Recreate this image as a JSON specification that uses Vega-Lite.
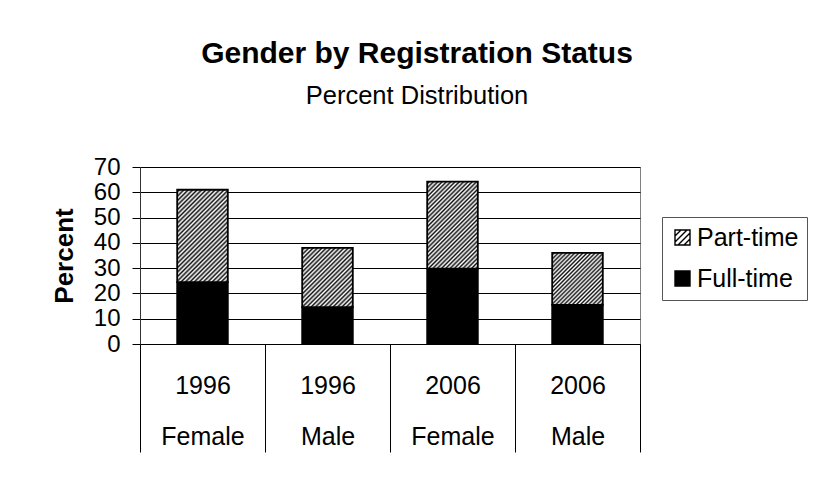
{
  "$schema": "https://vega.github.io/schema/vega-lite/v6.json",
  "width": 500,
  "height": 177,
  "autosize": "none",
  "padding": {"left": 140, "top": 167, "right": 176, "bottom": 141},
  "background": "#ffffff",
  "config": {
    "font": "Liberation Sans",
    "view": {"stroke": "#808080", "strokeWidth": 1}
  },
  "title": {
    "text": "Gender by Registration Status",
    "subtitle": "Percent Distribution",
    "font": "Liberation Sans",
    "subtitleFont": "Liberation Sans",
    "fontSize": 30,
    "fontWeight": "bold",
    "subtitleFontSize": 25.5,
    "subtitlePadding": 15,
    "color": "#000000",
    "subtitleColor": "#000000",
    "anchor": "middle",
    "frame": "group",
    "dx": 27,
    "offset": 46
  },
  "data": {
    "values": [
      {"category": "1996 Female", "status": "Full-time", "value": 24.5},
      {"category": "1996 Female", "status": "Part-time", "value": 36.5},
      {"category": "1996 Male", "status": "Full-time", "value": 14.6},
      {"category": "1996 Male", "status": "Part-time", "value": 23.4},
      {"category": "2006 Female", "status": "Full-time", "value": 29.8},
      {"category": "2006 Female", "status": "Part-time", "value": 34.4},
      {"category": "2006 Male", "status": "Full-time", "value": 15.5},
      {"category": "2006 Male", "status": "Part-time", "value": 20.5}
    ]
  },
  "transform": [
    {"stack": "value", "groupby": ["category"], "sort": [{"field": "status", "order": "ascending"}], "as": ["y0", "y1"]}
  ],
  "encoding": {
    "x": {
      "field": "category",
      "type": "nominal",
      "sort": ["1996 Female", "1996 Male", "2006 Female", "2006 Male"],
      "scale": {"paddingInner": 0, "paddingOuter": 0},
      "axis": {
        "title": null,
        "labelExpr": "split(datum.label, ' ')",
        "labelAngle": 0,
        "labelFont": "Liberation Sans",
        "labelFontSize": 25,
        "labelColor": "#000000",
        "labelLineHeight": 51,
        "labelPadding": -79,
        "labelBaseline": "top",
        "tickBand": "extent",
        "tickSize": 108,
        "tickColor": "#000000",
        "tickWidth": 1,
        "domainColor": "#000000",
        "domainWidth": 1,
        "grid": false
      }
    },
    "y": {
      "field": "y0",
      "type": "quantitative",
      "scale": {"domain": [0, 70], "nice": false},
      "axis": {
        "title": "Percent",
        "values": [0, 10, 20, 30, 40, 50, 60, 70],
        "labelFont": "Liberation Sans",
        "labelFontSize": 24,
        "labelColor": "#000000",
        "labelPadding": 12,
        "tickSize": 8,
        "tickColor": "#000000",
        "domainColor": "#333333",
        "grid": true,
        "gridColor": "#000000",
        "gridWidth": 1,
        "gridOpacity": 1,
        "titleFont": "Liberation Sans",
        "titleFontSize": 26,
        "titleFontWeight": "bold",
        "titleColor": "#000000",
        "titlePadding": 16
      }
    }
  },
  "layer": [
    {
      "transform": [{"filter": "datum.status === 'Full-time'"}],
      "mark": {"type": "bar", "fill": "#000000", "stroke": "#000000", "strokeWidth": 1.8, "width": {"band": 0.405}},
      "encoding": {"y2": {"field": "y1"}}
    },
    {
      "transform": [{"filter": "datum.status === 'Part-time' && datum.category === '1996 Female'"}],
      "mark": {"type": "bar", "stroke": "#000000", "strokeWidth": 1.8, "width": {"band": 0.405}, "fill": {"gradient": "linear", "x1": 0, "y1": 0, "x2": 0.6527, "y2": 1.1905, "stops": [
        {"offset": 0, "color": "#fff"}, {"offset": 0.0156, "color": "#111"}, {"offset": 0.0313, "color": "#fff"}, {"offset": 0.0469, "color": "#111"}, {"offset": 0.0625, "color": "#fff"}, {"offset": 0.0781, "color": "#111"}, {"offset": 0.0938, "color": "#fff"}, {"offset": 0.1094, "color": "#111"}, {"offset": 0.125, "color": "#fff"}, {"offset": 0.1406, "color": "#111"}, {"offset": 0.1563, "color": "#fff"}, {"offset": 0.1719, "color": "#111"}, {"offset": 0.1875, "color": "#fff"}, {"offset": 0.2031, "color": "#111"}, {"offset": 0.2188, "color": "#fff"}, {"offset": 0.2344, "color": "#111"}, {"offset": 0.25, "color": "#fff"}, {"offset": 0.2656, "color": "#111"}, {"offset": 0.2813, "color": "#fff"}, {"offset": 0.2969, "color": "#111"}, {"offset": 0.3125, "color": "#fff"}, {"offset": 0.3281, "color": "#111"}, {"offset": 0.3438, "color": "#fff"}, {"offset": 0.3594, "color": "#111"}, {"offset": 0.375, "color": "#fff"}, {"offset": 0.3906, "color": "#111"}, {"offset": 0.4063, "color": "#fff"}, {"offset": 0.4219, "color": "#111"}, {"offset": 0.4375, "color": "#fff"}, {"offset": 0.4531, "color": "#111"}, {"offset": 0.4688, "color": "#fff"}, {"offset": 0.4844, "color": "#111"}, {"offset": 0.5, "color": "#fff"}, {"offset": 0.5156, "color": "#111"}, {"offset": 0.5313, "color": "#fff"}, {"offset": 0.5469, "color": "#111"}, {"offset": 0.5625, "color": "#fff"}, {"offset": 0.5781, "color": "#111"}, {"offset": 0.5938, "color": "#fff"}, {"offset": 0.6094, "color": "#111"}, {"offset": 0.625, "color": "#fff"}, {"offset": 0.6406, "color": "#111"}, {"offset": 0.6563, "color": "#fff"}, {"offset": 0.6719, "color": "#111"}, {"offset": 0.6875, "color": "#fff"}, {"offset": 0.7031, "color": "#111"}, {"offset": 0.7188, "color": "#fff"}, {"offset": 0.7344, "color": "#111"}, {"offset": 0.75, "color": "#fff"}, {"offset": 0.7656, "color": "#111"}, {"offset": 0.7813, "color": "#fff"}, {"offset": 0.7969, "color": "#111"}, {"offset": 0.8125, "color": "#fff"}, {"offset": 0.8281, "color": "#111"}, {"offset": 0.8438, "color": "#fff"}, {"offset": 0.8594, "color": "#111"}, {"offset": 0.875, "color": "#fff"}, {"offset": 0.8906, "color": "#111"}, {"offset": 0.9063, "color": "#fff"}, {"offset": 0.9219, "color": "#111"}, {"offset": 0.9375, "color": "#fff"}, {"offset": 0.9531, "color": "#111"}, {"offset": 0.9688, "color": "#fff"}, {"offset": 0.9844, "color": "#111"}, {"offset": 1, "color": "#fff"}
      ]}},
      "encoding": {"y2": {"field": "y1"}}
    },
    {
      "transform": [{"filter": "datum.status === 'Part-time' && datum.category === '1996 Male'"}],
      "mark": {"type": "bar", "stroke": "#000000", "strokeWidth": 1.8, "width": {"band": 0.405}, "fill": {"gradient": "linear", "x1": 0, "y1": 0, "x2": 0.916, "y2": 1.072, "stops": [
        {"offset": 0, "color": "#fff"}, {"offset": 0.02, "color": "#111"}, {"offset": 0.04, "color": "#fff"}, {"offset": 0.06, "color": "#111"}, {"offset": 0.08, "color": "#fff"}, {"offset": 0.1, "color": "#111"}, {"offset": 0.12, "color": "#fff"}, {"offset": 0.14, "color": "#111"}, {"offset": 0.16, "color": "#fff"}, {"offset": 0.18, "color": "#111"}, {"offset": 0.2, "color": "#fff"}, {"offset": 0.22, "color": "#111"}, {"offset": 0.24, "color": "#fff"}, {"offset": 0.26, "color": "#111"}, {"offset": 0.28, "color": "#fff"}, {"offset": 0.3, "color": "#111"}, {"offset": 0.32, "color": "#fff"}, {"offset": 0.34, "color": "#111"}, {"offset": 0.36, "color": "#fff"}, {"offset": 0.38, "color": "#111"}, {"offset": 0.4, "color": "#fff"}, {"offset": 0.42, "color": "#111"}, {"offset": 0.44, "color": "#fff"}, {"offset": 0.46, "color": "#111"}, {"offset": 0.48, "color": "#fff"}, {"offset": 0.5, "color": "#111"}, {"offset": 0.52, "color": "#fff"}, {"offset": 0.54, "color": "#111"}, {"offset": 0.56, "color": "#fff"}, {"offset": 0.58, "color": "#111"}, {"offset": 0.6, "color": "#fff"}, {"offset": 0.62, "color": "#111"}, {"offset": 0.64, "color": "#fff"}, {"offset": 0.66, "color": "#111"}, {"offset": 0.68, "color": "#fff"}, {"offset": 0.7, "color": "#111"}, {"offset": 0.72, "color": "#fff"}, {"offset": 0.74, "color": "#111"}, {"offset": 0.76, "color": "#fff"}, {"offset": 0.78, "color": "#111"}, {"offset": 0.8, "color": "#fff"}, {"offset": 0.82, "color": "#111"}, {"offset": 0.84, "color": "#fff"}, {"offset": 0.86, "color": "#111"}, {"offset": 0.88, "color": "#fff"}, {"offset": 0.9, "color": "#111"}, {"offset": 0.92, "color": "#fff"}, {"offset": 0.94, "color": "#111"}, {"offset": 0.96, "color": "#fff"}, {"offset": 0.98, "color": "#111"}, {"offset": 1, "color": "#fff"}
      ]}},
      "encoding": {"y2": {"field": "y1"}}
    },
    {
      "transform": [{"filter": "datum.status === 'Part-time' && datum.category === '2006 Female'"}],
      "mark": {"type": "bar", "stroke": "#000000", "strokeWidth": 1.8, "width": {"band": 0.405}, "fill": {"gradient": "linear", "x1": 0, "y1": 0, "x2": 0.6875, "y2": 1.182, "stops": [
        {"offset": 0, "color": "#fff"}, {"offset": 0.0156, "color": "#111"}, {"offset": 0.0313, "color": "#fff"}, {"offset": 0.0469, "color": "#111"}, {"offset": 0.0625, "color": "#fff"}, {"offset": 0.0781, "color": "#111"}, {"offset": 0.0938, "color": "#fff"}, {"offset": 0.1094, "color": "#111"}, {"offset": 0.125, "color": "#fff"}, {"offset": 0.1406, "color": "#111"}, {"offset": 0.1563, "color": "#fff"}, {"offset": 0.1719, "color": "#111"}, {"offset": 0.1875, "color": "#fff"}, {"offset": 0.2031, "color": "#111"}, {"offset": 0.2188, "color": "#fff"}, {"offset": 0.2344, "color": "#111"}, {"offset": 0.25, "color": "#fff"}, {"offset": 0.2656, "color": "#111"}, {"offset": 0.2813, "color": "#fff"}, {"offset": 0.2969, "color": "#111"}, {"offset": 0.3125, "color": "#fff"}, {"offset": 0.3281, "color": "#111"}, {"offset": 0.3438, "color": "#fff"}, {"offset": 0.3594, "color": "#111"}, {"offset": 0.375, "color": "#fff"}, {"offset": 0.3906, "color": "#111"}, {"offset": 0.4063, "color": "#fff"}, {"offset": 0.4219, "color": "#111"}, {"offset": 0.4375, "color": "#fff"}, {"offset": 0.4531, "color": "#111"}, {"offset": 0.4688, "color": "#fff"}, {"offset": 0.4844, "color": "#111"}, {"offset": 0.5, "color": "#fff"}, {"offset": 0.5156, "color": "#111"}, {"offset": 0.5313, "color": "#fff"}, {"offset": 0.5469, "color": "#111"}, {"offset": 0.5625, "color": "#fff"}, {"offset": 0.5781, "color": "#111"}, {"offset": 0.5938, "color": "#fff"}, {"offset": 0.6094, "color": "#111"}, {"offset": 0.625, "color": "#fff"}, {"offset": 0.6406, "color": "#111"}, {"offset": 0.6563, "color": "#fff"}, {"offset": 0.6719, "color": "#111"}, {"offset": 0.6875, "color": "#fff"}, {"offset": 0.7031, "color": "#111"}, {"offset": 0.7188, "color": "#fff"}, {"offset": 0.7344, "color": "#111"}, {"offset": 0.75, "color": "#fff"}, {"offset": 0.7656, "color": "#111"}, {"offset": 0.7813, "color": "#fff"}, {"offset": 0.7969, "color": "#111"}, {"offset": 0.8125, "color": "#fff"}, {"offset": 0.8281, "color": "#111"}, {"offset": 0.8438, "color": "#fff"}, {"offset": 0.8594, "color": "#111"}, {"offset": 0.875, "color": "#fff"}, {"offset": 0.8906, "color": "#111"}, {"offset": 0.9063, "color": "#fff"}, {"offset": 0.9219, "color": "#111"}, {"offset": 0.9375, "color": "#fff"}, {"offset": 0.9531, "color": "#111"}, {"offset": 0.9688, "color": "#fff"}, {"offset": 0.9844, "color": "#111"}, {"offset": 1, "color": "#fff"}
      ]}},
      "encoding": {"y2": {"field": "y1"}}
    },
    {
      "transform": [{"filter": "datum.status === 'Part-time' && datum.category === '2006 Male'"}],
      "mark": {"type": "bar", "stroke": "#000000", "strokeWidth": 1.8, "width": {"band": 0.405}, "fill": {"gradient": "linear", "x1": 0, "y1": 0, "x2": 0.988, "y2": 1.0117, "stops": [
        {"offset": 0, "color": "#fff"}, {"offset": 0.02, "color": "#111"}, {"offset": 0.04, "color": "#fff"}, {"offset": 0.06, "color": "#111"}, {"offset": 0.08, "color": "#fff"}, {"offset": 0.1, "color": "#111"}, {"offset": 0.12, "color": "#fff"}, {"offset": 0.14, "color": "#111"}, {"offset": 0.16, "color": "#fff"}, {"offset": 0.18, "color": "#111"}, {"offset": 0.2, "color": "#fff"}, {"offset": 0.22, "color": "#111"}, {"offset": 0.24, "color": "#fff"}, {"offset": 0.26, "color": "#111"}, {"offset": 0.28, "color": "#fff"}, {"offset": 0.3, "color": "#111"}, {"offset": 0.32, "color": "#fff"}, {"offset": 0.34, "color": "#111"}, {"offset": 0.36, "color": "#fff"}, {"offset": 0.38, "color": "#111"}, {"offset": 0.4, "color": "#fff"}, {"offset": 0.42, "color": "#111"}, {"offset": 0.44, "color": "#fff"}, {"offset": 0.46, "color": "#111"}, {"offset": 0.48, "color": "#fff"}, {"offset": 0.5, "color": "#111"}, {"offset": 0.52, "color": "#fff"}, {"offset": 0.54, "color": "#111"}, {"offset": 0.56, "color": "#fff"}, {"offset": 0.58, "color": "#111"}, {"offset": 0.6, "color": "#fff"}, {"offset": 0.62, "color": "#111"}, {"offset": 0.64, "color": "#fff"}, {"offset": 0.66, "color": "#111"}, {"offset": 0.68, "color": "#fff"}, {"offset": 0.7, "color": "#111"}, {"offset": 0.72, "color": "#fff"}, {"offset": 0.74, "color": "#111"}, {"offset": 0.76, "color": "#fff"}, {"offset": 0.78, "color": "#111"}, {"offset": 0.8, "color": "#fff"}, {"offset": 0.82, "color": "#111"}, {"offset": 0.84, "color": "#fff"}, {"offset": 0.86, "color": "#111"}, {"offset": 0.88, "color": "#fff"}, {"offset": 0.9, "color": "#111"}, {"offset": 0.92, "color": "#fff"}, {"offset": 0.94, "color": "#111"}, {"offset": 0.96, "color": "#fff"}, {"offset": 0.98, "color": "#111"}, {"offset": 1, "color": "#fff"}
      ]}},
      "encoding": {"y2": {"field": "y1"}}
    },
    {
      "mark": {"type": "point", "filled": true, "opacity": 0, "stroke": "#000000", "strokeWidth": 1.4},
      "encoding": {
        "color": {
          "field": "status",
          "type": "nominal",
          "scale": {"domain": ["Part-time", "Full-time"], "range": ["#ffffff", "#000000"]},
          "legend": {
            "title": null,
            "orient": "none",
            "legendX": 522,
            "legendY": 50,
            "padding": 8,
            "strokeColor": "#555555",
            "fillColor": "#ffffff",
            "symbolSize": 225,
            "symbolOpacity": 1,
            "symbolStrokeWidth": 1.4,
            "labelFont": "Liberation Sans",
            "labelFontSize": 25,
            "labelColor": "#000000",
            "labelOffset": 2,
            "rowPadding": 15,
            "encode": {"symbols": {"update": {"stroke": {"value": "#000000"}, "strokeWidth": {"value": 1.4}, "strokeOpacity": {"value": 1}}}}
          }
        },
        "shape": {
          "field": "status",
          "type": "nominal",
          "scale": {"domain": ["Part-time", "Full-time"], "range": ["M-1,-1H1V1H-1Z M-1,-0.2L-0.2,-1 M-1,0.6L0.6,-1 M-0.6,1L1,-0.6 M0.2,1L1,0.2", "square"]},
          "legend": {
            "title": null,
            "orient": "none",
            "legendX": 522,
            "legendY": 50,
            "padding": 8,
            "strokeColor": "#555555",
            "fillColor": "#ffffff",
            "symbolSize": 225,
            "symbolOpacity": 1,
            "symbolStrokeWidth": 1.4,
            "labelFont": "Liberation Sans",
            "labelFontSize": 25,
            "labelColor": "#000000",
            "labelOffset": 2,
            "rowPadding": 15,
            "encode": {"symbols": {"update": {"stroke": {"value": "#000000"}, "strokeWidth": {"value": 1.4}, "strokeOpacity": {"value": 1}}}}
          }
        }
      }
    }
  ]
}
